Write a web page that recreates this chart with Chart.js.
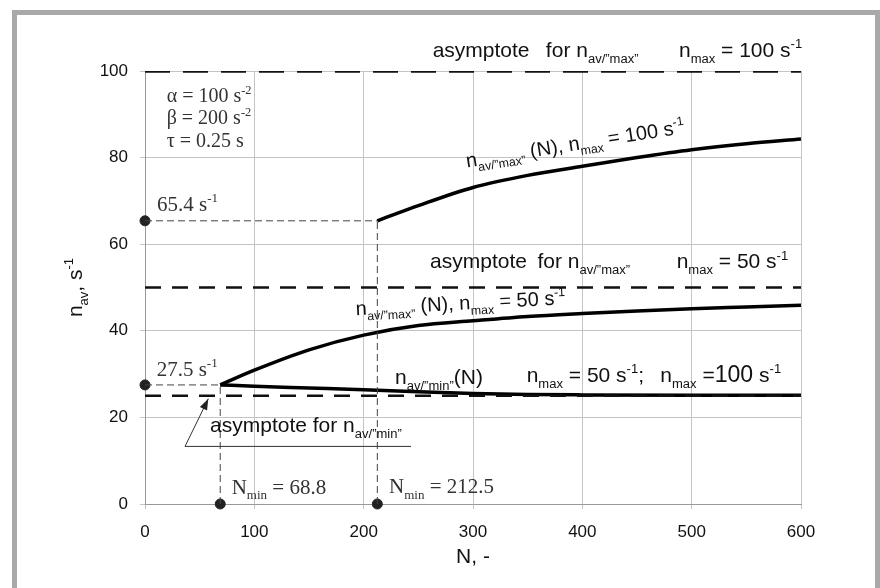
<!DOCTYPE html>
<html>
<head>
<meta charset="utf-8">
<script src="https://cdn.jsdelivr.net/npm/chart.js@4.4.1/dist/chart.umd.min.js"></script>
<style>
  html, body { margin: 0; padding: 0; background: #fff; }
  canvas { display: block; }
</style>
</head>
<body>
<canvas id="chart" width="880" height="588"></canvas>
<script>
// axis ranges
const xRange = [0, 600];
const yRange = [0, 100];
const xStep = 100;
const yStep = 20;

// n_av"max"(N) for n_max = 100 1/s
const max100N = [212.5, 250, 300, 350, 400, 450, 500, 550, 600];
const max100Nav = [65.4, 68.9, 73.1, 75.9, 78.0, 80.0, 81.8, 83.2, 84.3];

// n_av"max"(N) for n_max = 50 1/s
const max50N = [68.8, 100, 150, 200, 250, 300, 350, 400, 450, 500, 550, 600];
const max50Nav = [27.5, 30.9, 35.6, 39.0, 41.2, 42.3, 43.3, 44.0, 44.6, 45.1, 45.5, 45.9];

// n_av"min"(N), same for both n_max
const minN = [68.8, 100, 150, 200, 250, 300, 350, 400, 500, 600];
const minNav = [27.5, 27.2, 26.8, 26.4, 25.9, 25.5, 25.3, 25.2, 25.1, 25.1];

// asymptotes
const asymptotes = [100, 50, 25];

// N_min points and their starting n_av
const nMinPoints = [68.8, 212.5];
const navStart = [27.5, 65.4];

const SANS = '"Liberation Sans", Arial, sans-serif';
const SERIF = '"Liberation Serif", "Times New Roman", serif';

const pts = (xs, ys) => xs.map((x, i) => ({ x, y: ys[i] }));

const navMaxSub = [['n', ''], ['av/\u201Dmax\u201D', 'sub']];
const navMinSub = [['n', ''], ['av/\u201Dmin\u201D', 'sub']];

// text labels: [x, y] in data units, rich text parts
const labels = [
  { at: [263.1, 103.2], size: 21, font: SANS, parts: [['asymptote\u2002 for ', ''], ...navMaxSub] },
  { at: [488.4, 103.2], size: 21, font: SANS, parts: [['n', ''], ['max', 'sub'], [' = 100 s', ''], ['-1', 'sup']] },
  { at: [260.7, 54.4], size: 21, font: SANS, parts: [['asymptote\u2002for ', ''], ...navMaxSub] },
  { at: [486.3, 54.4], size: 21, font: SANS, parts: [['n', ''], ['max', 'sub'], [' = 50 s', ''], ['-1', 'sup']] },
  { at: [294.5, 77.7], size: 20, font: SANS, angle: -9, parts: [...navMaxSub, [' (N), n', ''], ['max', 'sub'], [' = 100 s', ''], ['-1', 'sup']] },
  { at: [193.0, 43.6], size: 20, font: SANS, angle: -3, parts: [...navMaxSub, [' (N), n', ''], ['max', 'sub'], [' = 50 s', ''], ['-1', 'sup']] },
  { at: [228.7, 27.8], size: 21, font: SANS, parts: [...navMinSub, ['(N)', '']] },
  { at: [349.1, 28.2], size: 21, font: SANS, parts: [['n', ''], ['max', 'sub'], [' = 50 s', ''], ['-1', 'sup'], [';\u2002 n', ''], ['max', 'sub'], [' =', ''], ['100', 'big'], [' s', ''], ['-1', 'sup']] },
  { at: [59.5, 16.6], size: 21, font: SANS, parts: [['asymptote for ', ''], ...navMinSub] },
  { at: [19.8, 92.8], size: 20, font: SERIF, color: '#333', parts: [['\u03B1 = 100 s', ''], ['-2', 'sup']] },
  { at: [19.8, 87.7], size: 20, font: SERIF, color: '#333', parts: [['\u03B2 = 200 s', ''], ['-2', 'sup']] },
  { at: [19.8, 82.4], size: 20, font: SERIF, color: '#333', parts: [['\u03C4 = 0.25 s', '']] },
  { at: [11.0, 67.6], size: 21, font: SERIF, color: '#333', parts: [['65.4 s', ''], ['-1', 'sup']] },
  { at: [10.7, 29.5], size: 21, font: SERIF, color: '#333', parts: [['27.5 s', ''], ['-1', 'sup']] },
  { at: [79.3, 2.4], size: 21, font: SERIF, color: '#333', parts: [['N', ''], ['min', 'sub'], [' = 68.8', '']] },
  { at: [223.2, 2.6], size: 21, font: SERIF, color: '#333', parts: [['N', ''], ['min', 'sub'], [' = 212.5', '']] }
];

// callout for the lower asymptote: underline start, underline end, arrow tip
const callout = [[36.6, 13.3], [243.3, 13.3], [57.9, 24.3]];

function richWidth(ctx, parts, size, family) {
  let w = 0;
  for (const [t, m] of parts) {
    const s = m === 'sub' || m === 'sup' ? size * 0.62 : m === 'big' ? size * 1.1 : size;
    ctx.font = s + 'px ' + family;
    w += ctx.measureText(t).width;
  }
  return w;
}

function drawRich(ctx, parts, x, y, size, family, color, angle, center) {
  ctx.save();
  ctx.translate(x, y);
  if (angle) ctx.rotate(angle * Math.PI / 180);
  ctx.fillStyle = color || '#111';
  ctx.textBaseline = 'alphabetic';
  ctx.textAlign = 'left';
  let cx = center ? -richWidth(ctx, parts, size, family) / 2 : 0;
  for (const [t, m] of parts) {
    const s = m === 'sub' || m === 'sup' ? size * 0.62 : m === 'big' ? size * 1.1 : size;
    const dy = m === 'sub' ? size * 0.28 : m === 'sup' ? -size * 0.42 : 0;
    ctx.font = s + 'px ' + family;
    ctx.fillText(t, cx, dy);
    cx += ctx.measureText(t).width;
  }
  ctx.restore();
}

const framePlugin = {
  id: 'frame',
  beforeDraw(chart) {
    const ctx = chart.ctx;
    ctx.save();
    ctx.fillStyle = '#fff';
    ctx.fillRect(0, 0, chart.width, chart.height);
    ctx.fillStyle = '#a9a9a9';
    ctx.fillRect(12, 10, 868, 5);
    ctx.fillRect(12, 10, 5, 578);
    ctx.fillRect(875, 10, 5, 578);
    ctx.restore();
  }
};

const textPlugin = {
  id: 'texts',
  afterDatasetsDraw(chart) {
    const ctx = chart.ctx;
    const xs = chart.scales.x, ys = chart.scales.y;
    const px = v => xs.getPixelForValue(v);
    const py = v => ys.getPixelForValue(v);

    labels.forEach(l => {
      drawRich(ctx, l.parts, px(l.at[0]), py(l.at[1]), l.size, l.font, l.color, l.angle);
    });

    // callout line with arrow
    const [a, b, tip] = callout;
    ctx.save();
    ctx.strokeStyle = '#333';
    ctx.lineWidth = 1;
    ctx.beginPath();
    ctx.moveTo(px(b[0]), py(b[1]));
    ctx.lineTo(px(a[0]), py(a[1]));
    ctx.lineTo(px(tip[0]), py(tip[1]));
    ctx.stroke();
    const ang = Math.atan2(py(tip[1]) - py(a[1]), px(tip[0]) - px(a[0]));
    ctx.translate(px(tip[0]), py(tip[1]));
    ctx.rotate(ang);
    ctx.fillStyle = '#222';
    ctx.beginPath();
    ctx.moveTo(0, 0);
    ctx.lineTo(-11, -4);
    ctx.lineTo(-11, 4);
    ctx.closePath();
    ctx.fill();
    ctx.restore();

    // axis titles
    const ca = chart.chartArea;
    drawRich(ctx, [['n', ''], ['av', 'sub'], [', s', ''], ['-1', 'sup']], 82, (ca.top + ca.bottom) / 2, 21, SANS, '#111', -90, true);
    drawRich(ctx, [['N, -', '']], (ca.left + ca.right) / 2, 563, 21, SANS, '#111', 0, true);
  }
};

const thin = { borderColor: '#444', borderWidth: 1, borderDash: [7, 4], pointRadius: 0, showLine: true, fill: false };

const datasets = [
  // helper dashed lines to the axes
  ...nMinPoints.map((n, i) => ({ ...thin, data: [{ x: n, y: 0 }, { x: n, y: navStart[i] }] })),
  ...nMinPoints.map((n, i) => ({ ...thin, data: [{ x: 0, y: navStart[i] }, { x: n, y: navStart[i] }] })),
  // asymptotes
  ...asymptotes.map((v, i) => ({
    data: [{ x: xRange[0], y: v }, { x: xRange[1], y: v }],
    borderColor: '#111',
    borderWidth: i === 0 ? 3.5 : 2.5,
    borderDash: i === 0 ? [25, 13] : [16, 11],
    pointRadius: 0, showLine: true
  })),
  // curves
  { data: pts(max100N, max100Nav), borderColor: '#000', borderWidth: 3.5, pointRadius: 0, showLine: true, cubicInterpolationMode: 'monotone' },
  { data: pts(max50N, max50Nav), borderColor: '#000', borderWidth: 3.5, pointRadius: 0, showLine: true, cubicInterpolationMode: 'monotone' },
  { data: pts(minN, minNav), borderColor: '#000', borderWidth: 3.5, pointRadius: 0, showLine: true, cubicInterpolationMode: 'monotone' },
  // markers on the axes
  {
    data: [...navStart.map(v => ({ x: 0, y: v })), ...nMinPoints.map(n => ({ x: n, y: 0 }))],
    backgroundColor: '#222', borderColor: '#222', pointRadius: 5, showLine: false, clip: false
  }
];

new Chart(document.getElementById('chart').getContext('2d'), {
  type: 'scatter',
  data: { datasets },
  options: {
    responsive: false,
    animation: false,
    layout: { padding: { top: 71, right: 79, left: 0, bottom: 0 } },
    plugins: { legend: { display: false }, tooltip: { enabled: false } },
    scales: {
      x: {
        type: 'linear',
        min: xRange[0], max: xRange[1],
        afterFit: s => { s.height = 84; },
        grid: { color: '#c4c4c4', tickLength: 5 },
        border: { color: '#999' },
        ticks: { stepSize: xStep, padding: 13, color: '#111', font: { family: SANS, size: 17 } }
      },
      y: {
        min: yRange[0], max: yRange[1],
        afterFit: s => { s.width = 145; },
        grid: { color: '#c4c4c4', tickLength: 5 },
        border: { color: '#999' },
        ticks: { stepSize: yStep, padding: 12, color: '#111', font: { family: SANS, size: 17 } }
      }
    }
  },
  plugins: [framePlugin, textPlugin]
});
</script>
</body>
</html>
